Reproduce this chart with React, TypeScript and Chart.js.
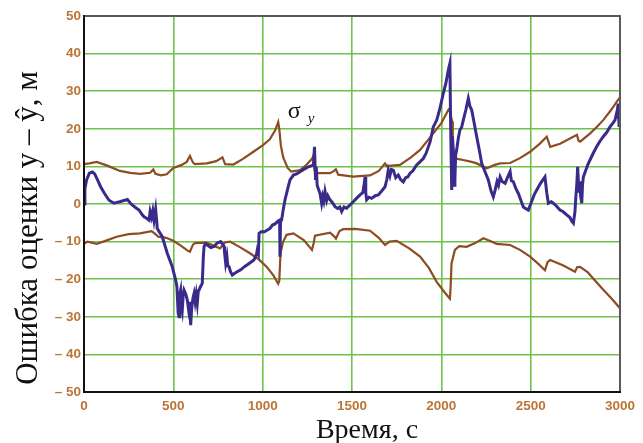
import React, { useEffect, useRef } from 'react';
import { Chart, registerables } from 'chart.js';

Chart.register(...registerables);

const xTickValues = [0, 500, 1000, 1500, 2000, 2500, 3000];
const yTickValues = [-50, -40, -30, -20, -10, 0, 10, 20, 30, 40, 50];
const xTitle = 'Время, с';
const yTitle = 'Ошибка оценки y – ŷ, м';
const sigmaLabel = 'σ';
const sigmaSub = 'y';

const errT = [0, 5, 15, 30, 47, 60, 75, 93, 115, 140, 168, 200, 243, 260, 271, 290, 308, 325, 336, 350, 364, 370, 378, 385, 392, 401, 406, 410, 438, 466, 494, 513, 520, 527, 532, 536, 541, 546, 550, 555, 560, 570, 578, 585, 591, 597, 603, 610, 616, 622, 628, 634, 640, 644, 652, 662, 668, 672, 680, 690, 710, 728, 745, 765, 775, 784, 788, 793, 800, 805, 812, 820, 830, 850, 877, 900, 924, 951, 965, 970, 976, 980, 992, 1010, 1041, 1055, 1069, 1085, 1095, 1097, 1100, 1106, 1115, 1125, 1140, 1153, 1165, 1172, 1190, 1209, 1230, 1256, 1275, 1284, 1290, 1296, 1300, 1305, 1312, 1321, 1330, 1336, 1342, 1349, 1358, 1365, 1377, 1390, 1405, 1420, 1432, 1442, 1455, 1470, 1490, 1507, 1525, 1545, 1560, 1566, 1573, 1577, 1582, 1595, 1610, 1630, 1647, 1665, 1685, 1695, 1703, 1712, 1720, 1731, 1745, 1759, 1772, 1787, 1800, 1812, 1825, 1840, 1862, 1880, 1899, 1915, 1937, 1955, 1974, 1990, 2011, 2025, 2039, 2048, 2052, 2058, 2062, 2067, 2072, 2076, 2080, 2086, 2095, 2104, 2114, 2123, 2137, 2151, 2160, 2170, 2184, 2198, 2212, 2226, 2245, 2263, 2278, 2291, 2300, 2312, 2320, 2329, 2340, 2357, 2370, 2385, 2392, 2403, 2418, 2431, 2445, 2459, 2475, 2487, 2500, 2520, 2534, 2555, 2580, 2590, 2599, 2615, 2627, 2645, 2664, 2680, 2702, 2720, 2730, 2739, 2748, 2753, 2758, 2763, 2770, 2775, 2780, 2786, 2790, 2795, 2805, 2820, 2832, 2850, 2869, 2885, 2906, 2925, 2944, 2960, 2972, 2985, 2990, 2995, 3000];
const errY = [0.0, 4.0, 6.5, 8.2, 8.5, 8.0, 6.5, 4.6, 2.8, 1.0, 0.2, 0.6, 1.2, 0.2, -0.3, -1.0, -1.6, -2.8, -3.4, -3.8, -4.3, -2.0, -3.5, -1.8, -4.3, -1.4, -4.0, -6.5, -8.7, -13.1, -16.7, -20.2, -22.0, -29.0, -30.0, -24.0, -22.9, -27.0, -28.2, -24.5, -22.9, -24.0, -25.5, -28.0, -26.0, -32.2, -27.5, -25.0, -23.8, -26.0, -24.0, -26.4, -23.0, -22.9, -22.0, -21.1, -14.0, -11.3, -10.6, -10.9, -11.6, -11.3, -10.4, -10.0, -10.6, -11.3, -13.5, -15.8, -14.0, -16.5, -16.7, -18.0, -18.9, -18.2, -17.5, -16.6, -15.8, -14.9, -13.5, -12.2, -13.1, -7.8, -7.4, -7.4, -6.5, -5.6, -5.3, -4.6, -4.3, -14.0, -4.6, -4.3, -1.5, 1.1, 4.0, 6.4, 7.2, 7.7, 8.0, 8.6, 9.2, 9.9, 10.2, 10.4, 15.2, 6.4, 9.9, 5.0, 4.0, 2.8, 0.2, 2.0, 0.8, 3.3, 1.0, 2.2, 1.1, 0.4, -0.7, -1.2, -0.8, -2.0, -0.8, -1.1, -0.2, 0.6, 1.5, 2.4, 3.0, 4.5, 7.2, 3.0, 1.1, 1.8, 1.5, 2.2, 2.4, 3.4, 4.6, 6.5, 9.0, 7.5, 9.2, 9.0, 7.0, 7.7, 6.5, 5.9, 7.0, 7.2, 8.2, 8.8, 10.4, 11.2, 12.1, 13.5, 16.5, 20.5, 22.3, 25.0, 29.4, 32.0, 35.6, 37.4, 21.5, 3.7, 18.0, 14.4, 5.0, 6.4, 13.0, 14.4, 17.5, 19.7, 20.5, 22.3, 25.0, 28.1, 26.0, 25.0, 21.5, 17.9, 14.5, 10.8, 8.5, 6.4, 3.5, 1.9, 3.5, 6.0, 5.0, 7.2, 6.0, 5.5, 7.0, 8.6, 6.2, 5.9, 4.0, 2.8, 1.0, -0.8, -1.3, -1.6, 0.0, 2.5, 3.7, 5.5, 7.2, 3.0, 0.2, 0.6, 0.2, -0.6, -1.6, -2.0, -2.9, -3.6, -4.6, -5.1, -2.0, 2.0, 5.0, 9.9, 3.0, 6.0, 2.0, 0.2, 5.0, 7.2, 8.5, 10.5, 11.7, 13.5, 15.2, 16.5, 17.9, 19.0, 20.5, 21.5, 22.3, 25.0, 26.7, 20.5, 24.0];

const sigUpT = [0, 30, 71, 130, 201, 260, 313, 370, 388, 400, 430, 463, 500, 547, 575, 593, 610, 621, 687, 740, 775, 790, 836, 890, 948, 1000, 1040, 1070, 1087, 1093, 1102, 1115, 1140, 1160, 1209, 1240, 1276, 1285, 1290, 1300, 1377, 1400, 1410, 1423, 1506, 1601, 1650, 1685, 1694, 1768, 1830, 1881, 1955, 2000, 2039, 2045, 2060, 2064, 2090, 2122, 2170, 2198, 2254, 2300, 2329, 2385, 2440, 2497, 2550, 2590, 2600, 2609, 2665, 2720, 2759, 2768, 2777, 2833, 2870, 2906, 2950, 2989, 3000];
const sigUpY = [10.6, 10.8, 11.2, 10.2, 8.8, 8.3, 8.0, 8.3, 9.2, 8.0, 7.6, 7.9, 9.6, 10.4, 11.2, 12.8, 11.0, 10.6, 10.8, 11.4, 12.4, 10.6, 10.5, 12.0, 13.9, 15.6, 17.2, 19.6, 21.8, 20.0, 15.5, 12.4, 9.6, 8.6, 9.0, 10.2, 12.0, 13.0, 9.0, 8.2, 8.2, 8.8, 9.2, 7.8, 7.3, 7.6, 8.8, 10.8, 10.1, 10.4, 12.4, 14.4, 18.8, 21.5, 25.0, 25.3, 22.0, 12.2, 12.0, 11.7, 11.2, 10.8, 9.5, 10.4, 10.8, 10.9, 12.2, 13.9, 16.0, 17.9, 16.5, 15.2, 16.0, 17.4, 18.4, 16.8, 16.6, 18.8, 20.5, 22.3, 25.0, 27.7, 28.3];

const sigLoT = [0, 20, 71, 120, 183, 250, 313, 378, 395, 416, 460, 500, 540, 580, 593, 610, 621, 687, 730, 761, 790, 817, 870, 929, 980, 1022, 1060, 1087, 1093, 1100, 1115, 1134, 1172, 1230, 1276, 1285, 1293, 1377, 1400, 1410, 1430, 1451, 1520, 1601, 1650, 1685, 1710, 1750, 1820, 1881, 1930, 1974, 2020, 2048, 2052, 2057, 2076, 2100, 2141, 2190, 2235, 2270, 2310, 2385, 2440, 2497, 2540, 2580, 2595, 2609, 2680, 2748, 2760, 2777, 2820, 2850, 2900, 2950, 3000];
const sigLoY = [-10.6, -10.0, -10.6, -9.8, -8.7, -8.0, -7.8, -7.2, -7.8, -8.7, -9.0, -9.8, -11.0, -12.4, -12.7, -10.8, -10.4, -10.3, -11.2, -11.8, -10.2, -10.0, -11.4, -13.1, -14.8, -16.7, -19.0, -21.2, -20.5, -13.0, -10.0, -8.2, -7.8, -9.6, -12.2, -10.5, -8.4, -7.6, -8.6, -9.2, -7.2, -6.7, -6.6, -7.1, -9.0, -10.9, -10.0, -9.8, -11.8, -14.0, -17.0, -20.7, -23.6, -25.2, -22.0, -15.8, -12.2, -11.2, -11.4, -10.4, -9.1, -9.8, -10.6, -10.9, -12.2, -14.0, -15.8, -17.6, -15.4, -14.9, -16.3, -18.0, -16.8, -16.7, -18.2, -19.8, -22.5, -25.0, -27.7];

const sigmaLabelX = 1140;
const sigmaLabelY = 23;

const toPoints = (xs: number[], ys: number[]) => xs.map((x, i) => ({ x, y: ys[i] }));

const decorPlugin = {
  id: 'decor',
  afterDraw(chart: any) {
    const { ctx, chartArea: a, scales } = chart;
    ctx.save();
    // frame
    ctx.lineWidth = 2;
    ctx.strokeStyle = '#5a5a5a';
    ctx.beginPath();
    ctx.moveTo(a.left, a.top);
    ctx.lineTo(a.right, a.top);
    ctx.lineTo(a.right, a.bottom);
    ctx.stroke();
    ctx.strokeStyle = '#111111';
    ctx.beginPath();
    ctx.moveTo(a.left, a.top - 1);
    ctx.lineTo(a.left, a.bottom);
    ctx.lineTo(a.right + 1, a.bottom);
    ctx.stroke();

    // x title
    ctx.fillStyle = '#111111';
    ctx.font = '28px "Liberation Serif"';
    ctx.textAlign = 'center';
    ctx.textBaseline = 'alphabetic';
    ctx.fillText(xTitle, 367, 438);

    // sigma annotation
    const sx = scales.x.getPixelForValue(sigmaLabelX);
    const sy = scales.y.getPixelForValue(sigmaLabelY);
    ctx.textAlign = 'left';
    ctx.font = '24px "Liberation Serif"';
    ctx.fillText(sigmaLabel, sx, sy);
    ctx.font = 'italic 15px "Liberation Serif"';
    ctx.fillText(sigmaSub, sx + 20, sy + 5);

    // y title
    ctx.translate(37, 228);
    ctx.rotate(-Math.PI / 2);
    ctx.textAlign = 'center';
    ctx.font = '31px "Liberation Serif"';
    ctx.fillText(yTitle, 0, 0);
    ctx.restore();
  },
};

export default function App() {
  const ref = useRef<HTMLCanvasElement | null>(null);
  useEffect(() => {
    if (!ref.current) return;
    const tickColor = '#bb7535';
    const chart = new Chart(ref.current, {
      type: 'line',
      data: {
        datasets: [
          {
            data: toPoints(errT, errY),
            borderColor: '#3a2a8c',
            borderWidth: 3,
            pointRadius: 0,
            tension: 0,
          },
          {
            data: toPoints(sigUpT, sigUpY),
            borderColor: '#8c4d22',
            borderWidth: 2.2,
            pointRadius: 0,
            tension: 0,
          },
          {
            data: toPoints(sigLoT, sigLoY),
            borderColor: '#8c4d22',
            borderWidth: 2.2,
            pointRadius: 0,
            tension: 0,
          },
        ],
      },
      options: {
        animation: false,
        responsive: false,
        layout: { padding: { top: 16, right: 23, left: 0, bottom: 0 } },
        plugins: { legend: { display: false }, tooltip: { enabled: false } },
        scales: {
          x: {
            type: 'linear',
            min: 0,
            max: 3000,
            afterFit: (s: any) => { s.height = 51; },
            afterBuildTicks: (s: any) => { s.ticks = xTickValues.map((v) => ({ value: v })); },
            grid: { color: '#6cc24c', lineWidth: 1.6, drawTicks: false },
            border: { display: false },
            ticks: {
              color: tickColor,
              padding: 6,
              maxRotation: 0,
              font: { family: 'Liberation Sans', size: 13.5, weight: 'bold' },
              callback: (v: any) => String(v),
            },
          },
          y: {
            type: 'linear',
            min: -50,
            max: 50,
            afterFit: (s: any) => { s.width = 84; },
            afterBuildTicks: (s: any) => { s.ticks = yTickValues.map((v) => ({ value: v })); },
            grid: { color: '#6cc24c', lineWidth: 1.6, drawTicks: false },
            border: { display: false },
            ticks: {
              color: tickColor,
              padding: 3,
              font: { family: 'Liberation Sans', size: 13.5, weight: 'bold' },
              callback: (v: any) => (v < 0 ? '– ' + Math.abs(v) : String(v)),
            },
          },
        },
      },
      plugins: [decorPlugin],
    } as any);
    return () => chart.destroy();
  }, []);

  return (
    <div style={{ position: 'absolute', left: 0, top: 0, width: 643, height: 443, background: '#ffffff' }}>
      <canvas ref={ref} width={643} height={443} style={{ display: 'block' }} />
    </div>
  );
}
